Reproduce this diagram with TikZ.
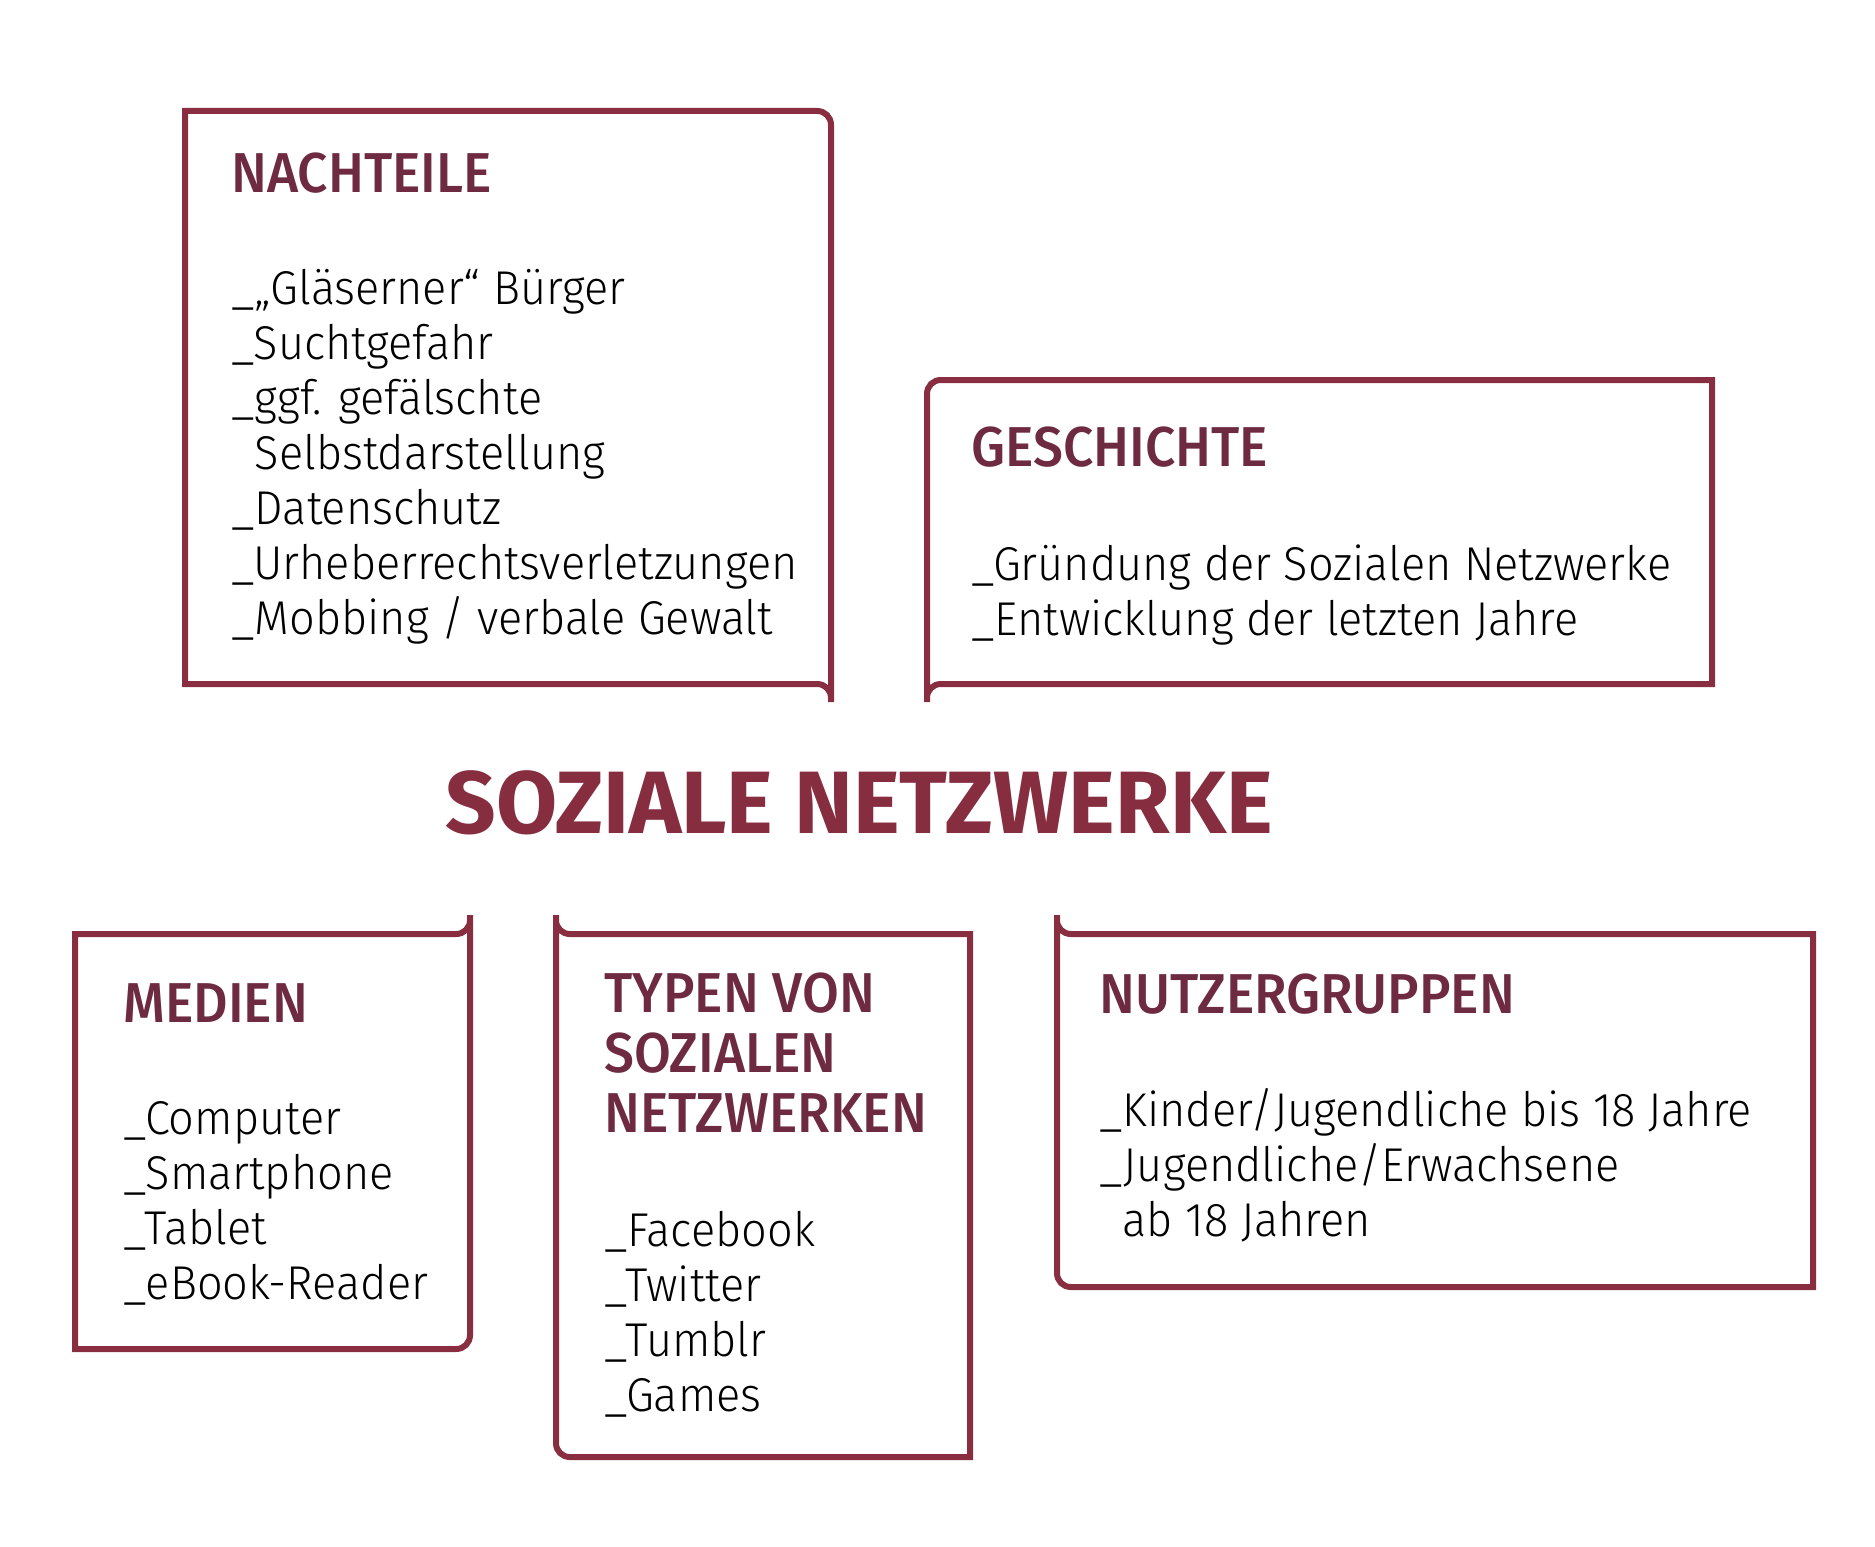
\documentclass[tikz,border=0pt]{standalone}
\usepackage{fontspec}
\setmainfont{Fira Sans}[UprightFont={* Light}, BoldFont={* Medium}, FakeStretch=0.95]
\newfontfamily\headfont{Fira Sans}[UprightFont={* Medium}, FakeStretch=0.95]
\newfontfamily\titlefont{Fira Sans}[UprightFont={* Bold}]
\usepackage{xcolor}
\definecolor{FrameRed}{RGB}{136, 46, 64}
\definecolor{HeadRed}{RGB}{110, 42, 65}
\definecolor{TitleRed}{RGB}{134, 45, 64}
\usetikzlibrary{positioning}

\tikzset{
  frame/.style={draw=FrameRed, line width=6*0.02cm, line join=miter},
  head/.style={anchor=base west, inner sep=0pt, align=left, text=HeadRed,
    font=\fontsize{32}{34}\headfont},
  items/.style={anchor=base west, inner sep=0pt, align=left, text=black,
    font=\fontsize{27}{31.3}\selectfont},
}

\begin{document}
\begin{tikzpicture}[x=0.02cm, y=-0.02cm]
	\useasboundingbox (0,0) rectangle (1875,1547);
	% frames
	\draw[frame] (831,702) -- (831,125) .. controls (831,117) and (825,111) .. (817,111) -- (185,111) -- (185,684) -- (817,684) .. controls (825,684) and (831,690) .. (831,698);
	\draw[frame] (927,702) -- (927,394) .. controls (927,386) and (933,380) .. (941,380) -- (1712,380) -- (1712,684) -- (941,684) .. controls (933,684) and (927,690) .. (927,698);
	\draw[frame] (470,915) -- (470,1335) .. controls (470,1343) and (464,1349) .. (456,1349) -- (75,1349) -- (75,934) -- (456,934) .. controls (464,934) and (470,928) .. (470,920);
	\draw[frame] (556,915) -- (556,1443) .. controls (556,1451) and (562,1457) .. (570,1457) -- (970,1457) -- (970,934) -- (570,934) .. controls (562,934) and (556,928) .. (556,920);
	\draw[frame] (1057,915) -- (1057,1273) .. controls (1057,1281) and (1063,1287) .. (1071,1287) -- (1813,1287) -- (1813,934) -- (1071,934) .. controls (1063,934) and (1057,928) .. (1057,920);
	% title
	\node[anchor=base west, inner sep=0pt, text=TitleRed, font=\fontsize{50.4}{60}\titlefont] (title) at (445,833) {SOZIALE NETZWERKE};
	% nachteile (lists sit on their last baseline)
	\node[head] (nachHead) at (231,193) {NACHTEILE};
	\node[items] (nachList) at (231,634) {\_„Gläserner“ Bürger\\\_Suchtgefahr\\\_ggf. gefälschte\\\phantom{\_}Selbstdarstellung\\\_Datenschutz\\\_Urheberrechtsverletzungen\\\_Mobbing / verbale Gewalt};
	% geschichte
	\node[head] (geschHead) at (971,466) {GESCHICHTE};
	\node[items] (geschList) at (971,635) {\_Gründung der Sozialen Netzwerke\\\_Entwicklung der letzten Jahre};
	% medien
	\node[head] (medHead) at (123,1022) {MEDIEN};
	\node[items] (medList) at (123,1299) {\_Computer\\\_Smartphone\\\_Tablet\\\_eBook-Reader};
	% typen
	\node[head] (typHead) at (604,1132) {TYPEN VON\\SOZIALEN\\NETZWERKEN};
	\node[items] (typList) at (604,1411) {\_Facebook\\\_Twitter\\\_Tumblr\\\_Games};
	% nutzergruppen
	\node[head] (nutzHead) at (1099,1013) {NUTZERGRUPPEN};
	\node[items] (nutzList) at (1099,1236) {\_Kinder/Jugendliche bis 18 Jahre\\\_Jugendliche/Erwachsene\\\phantom{\_}ab 18 Jahren};
\end{tikzpicture}
\end{document}
